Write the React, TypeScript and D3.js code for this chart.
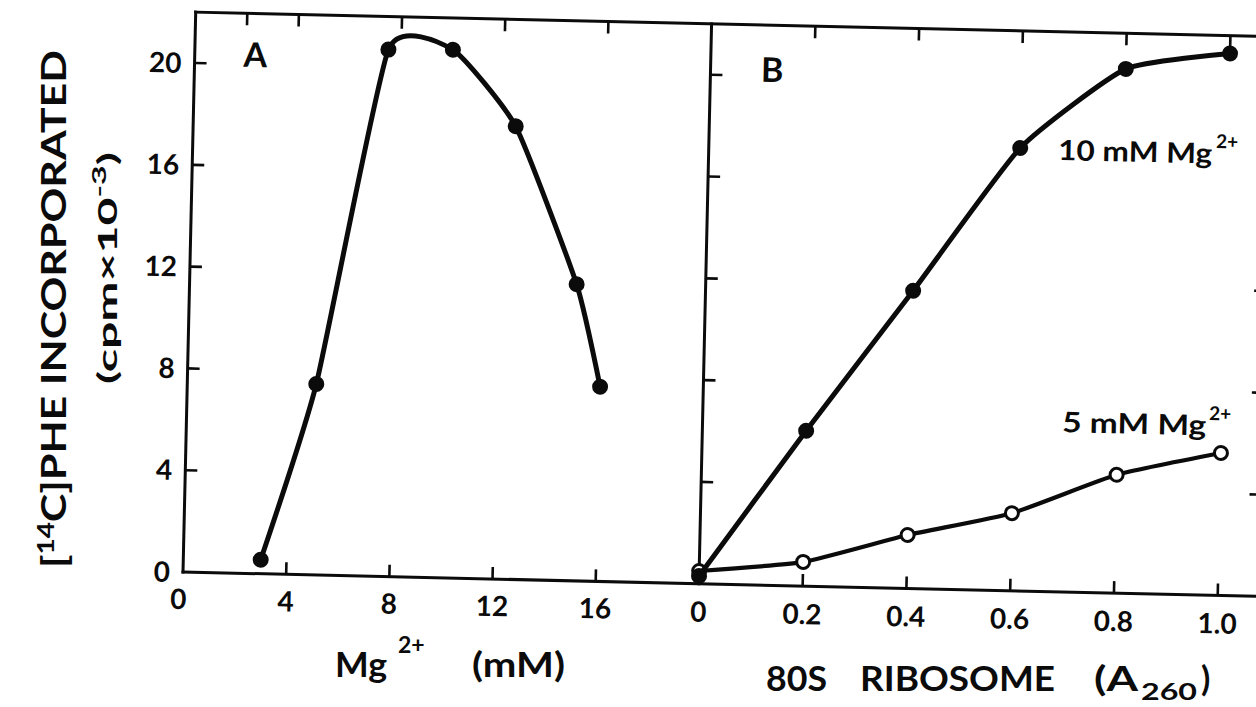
import React from "react";
import * as d3 from "d3";

// Panel A: incorporation versus Mg2+ concentration (mM)
const mgConc = [3, 5, 7.5, 10, 12.5, 15, 16];
const mgIncorp = [0.55, 7.5, 20.7, 20.75, 17.8, 11.65, 7.65];

// Panel B: incorporation versus amount of 80S ribosomes (A260 units)
const ribosome = [0, 0.2, 0.4, 0.6, 0.8, 1.0];
const incorp10mM = [0.3, 6.1, 11.7, 17.4, 20.6, 21.3];
const incorp5mM = [0.5, 0.95, 2.1, 3.05, 4.65, 5.6];

// Axis ticks
const yTicks = [4, 8, 12, 16, 20];
const yTickLabels = ["0", "4", "8", "12", "16", "20"];
const mgBottomTicks = [4, 8, 12, 16];
const mgTopTicks = [2, 4, 8, 12, 16];
const mgTickLabels = ["0", "4", "8", "12", "16"];
const riboTicks = [0.2, 0.4, 0.6, 0.8, 1.0];
const riboTickLabels = ["0", "0.2", "0.4", "0.6", "0.8", "1.0"];

const W = 1256;
const H = 707;
const INK = "#0b0b0b";
const FONT = "Lato, 'Noto Sans', 'DejaVu Sans', sans-serif";

export default function App() {
  // the whole plot frame sits slightly tilted, pivoting on panel A's origin
  const OX = 183;
  const OY = 572;
  const ANGLE = 1.3;
  const rad = (ANGLE * Math.PI) / 180;
  const cos = Math.cos(rad);
  const sin = Math.sin(rad);
  const toLocal = (sx: number, sy: number): [number, number] => {
    const dx = sx - OX;
    const dy = sy - OY;
    return [OX + dx * cos + dy * sin, OY - dx * sin + dy * cos];
  };

  const xA = d3.scaleLinear().domain([0, 20]).range([OX, 699]);
  const xB = d3.scaleLinear().domain([0, 1.08]).range([699, 1259.5]);
  const y = d3.scaleLinear().domain([0, 22]).range([OY, OY - 560]);

  const yTop = y(22);
  const yBot = y(0);
  const xLeft = xA(0);
  const xDiv = xB(0);
  const xRight = xB(1.08);
  const TICK = 12;

  const line = d3
    .line<[number, number]>()
    .x((d) => d[0])
    .y((d) => d[1])
    .curve(d3.curveCardinal.tension(0.5));

  const ptsA: [number, number][] = mgConc.map((m, i) => [xA(m), y(mgIncorp[i])]);
  const pts10: [number, number][] = ribosome.map((r, i) => [xB(r), y(incorp10mM[i])]);
  const pts5: [number, number][] = ribosome.map((r, i) => [xB(r), y(incorp5mM[i])]);

  const labelA = toLocal(255, 67);
  const labelB = toLocal(772, 82);
  const lab10 = toLocal(1058, 160);
  const lab10sup = toLocal(1216, 148);
  const lab5 = toLocal(1062, 432);
  const lab5sup = toLocal(1209, 420);

  const tickFont = 28;

  return (
    <svg
      width={W}
      height={H}
      viewBox={`0 0 ${W} ${H}`}
      style={{ position: "fixed", left: 0, top: 0, background: "#fff" }}
      fontFamily={FONT}
      fontWeight={700}
      fill={INK}
    >
      <rect x={0} y={0} width={W} height={H} fill="#fff" />

      <g transform={`rotate(${ANGLE} ${OX} ${OY})`}>
        {/* frame */}
        <g stroke={INK} strokeWidth={3} fill="none" strokeLinecap="square">
          <line x1={xLeft} y1={yTop} x2={xRight} y2={yTop} />
          <line x1={xLeft} y1={yBot} x2={xRight} y2={yBot} />
          <line x1={xLeft} y1={yTop} x2={xLeft} y2={yBot} />
          <line x1={xDiv} y1={yTop} x2={xDiv} y2={yBot} />
          <line x1={xRight} y1={yTop} x2={xRight} y2={yBot} />
        </g>

        {/* ticks, all pointing inwards */}
        <g stroke={INK} strokeWidth={2.6}>
          {yTicks.map((t) => (
            <g key={`yt${t}`}>
              <line x1={xLeft} x2={xLeft + TICK} y1={y(t)} y2={y(t)} />
              <line x1={xDiv} x2={xDiv + TICK} y1={y(t)} y2={y(t)} />
              <line x1={xRight} x2={xRight - TICK} y1={y(t)} y2={y(t)} />
            </g>
          ))}
          {mgBottomTicks.map((t) => (
            <line key={`mb${t}`} x1={xA(t)} x2={xA(t)} y1={yBot} y2={yBot - TICK} />
          ))}
          {mgTopTicks.map((t) => (
            <line key={`mt${t}`} x1={xA(t)} x2={xA(t)} y1={yTop} y2={yTop + TICK} />
          ))}
          {riboTicks.map((t) => (
            <g key={`rt${t}`}>
              <line x1={xB(t)} x2={xB(t)} y1={yBot} y2={yBot - TICK} />
              <line x1={xB(t)} x2={xB(t)} y1={yTop} y2={yTop + TICK} />
            </g>
          ))}
        </g>

        {/* tick labels */}
        <g fontSize={tickFont} stroke="none">
          {[0, ...yTicks].map((t, i) => (
            <text key={`yl${t}`} x={xLeft - 13} y={y(t)} dy="0.36em" textAnchor="end">
              {yTickLabels[i]}
            </text>
          ))}
          {[0, ...mgBottomTicks].map((t, i) => (
            <text
              key={`ml${t}`}
              x={xA(t) + (t === 0 ? -4 : 0)}
              y={yBot + 37}
              textAnchor="middle"
            >
              {mgTickLabels[i]}
            </text>
          ))}
          {[0, ...riboTicks].map((t, i) => (
            <text key={`rl${t}`} x={xB(t)} y={yBot + 38} textAnchor="middle">
              {riboTickLabels[i]}
            </text>
          ))}
        </g>

        {/* panel letters */}
        <text x={labelA[0]} y={labelA[1]} fontSize={34} textAnchor="middle">
          A
        </text>
        <text x={labelB[0]} y={labelB[1]} fontSize={34} textAnchor="middle">
          B
        </text>

        {/* series labels */}
        <text x={lab10[0]} y={lab10[1]} fontSize={28} textLength={154} lengthAdjust="spacingAndGlyphs">
          10 mM Mg
        </text>
        <text x={lab10sup[0]} y={lab10sup[1]} fontSize={19}>
          2+
        </text>
        <text x={lab5[0]} y={lab5[1]} fontSize={28} textLength={144} lengthAdjust="spacingAndGlyphs">
          5 mM Mg
        </text>
        <text x={lab5sup[0]} y={lab5sup[1]} fontSize={19}>
          2+
        </text>

        {/* panel A curve */}
        <path d={line(ptsA) ?? ""} fill="none" stroke={INK} strokeWidth={5} />
        {ptsA.map((p, i) => (
          <circle key={`pa${i}`} cx={p[0]} cy={p[1]} r={8} fill={INK} />
        ))}

        {/* panel B, 5 mM (open symbols) */}
        <path d={line(pts5) ?? ""} fill="none" stroke={INK} strokeWidth={4.2} />
        {pts5.map((p, i) => (
          <circle
            key={`p5${i}`}
            cx={p[0]}
            cy={p[1]}
            r={6.5}
            fill="#fff"
            stroke={INK}
            strokeWidth={3}
          />
        ))}

        {/* panel B, 10 mM (filled symbols) */}
        <path d={line(pts10) ?? ""} fill="none" stroke={INK} strokeWidth={5} />
        {pts10.map((p, i) => (
          <circle key={`p10${i}`} cx={p[0]} cy={p[1]} r={8} fill={INK} />
        ))}
      </g>

      {/* y-axis title */}
      <g transform="translate(66,309) rotate(-90)">
        <text x={0} y={0} fontSize={34} textAnchor="middle" textLength={518} lengthAdjust="spacingAndGlyphs">
          [<tspan fontSize={22} dy={-12}>14</tspan>
          <tspan dy={12}>C]PHE  INCORPORATED</tspan>
        </text>
      </g>
      <g transform="translate(117,268) rotate(-90)">
        <text x={0} y={0} fontSize={27} textAnchor="middle" textLength={232} lengthAdjust="spacingAndGlyphs">
          (cpm×10<tspan fontSize={19} dy={-11}>-3</tspan>
          <tspan dy={11}>)</tspan>
        </text>
      </g>

      {/* x-axis titles */}
      <text x={335} y={677} fontSize={34} textLength={52} lengthAdjust="spacingAndGlyphs">
        Mg
      </text>
      <text x={398} y={653} fontSize={23}>
        2+
      </text>
      <text x={472} y={677} fontSize={34} textLength={93} lengthAdjust="spacingAndGlyphs">
        (mM)
      </text>

      <text x={766} y={691} fontSize={34} textLength={61} lengthAdjust="spacingAndGlyphs">
        80S
      </text>
      <text x={860} y={691} fontSize={34} textLength={195} lengthAdjust="spacingAndGlyphs">
        RIBOSOME
      </text>
      <text x={1094} y={691} fontSize={34} textLength={44} lengthAdjust="spacingAndGlyphs">
        (A
      </text>
      <text x={1141} y={700} fontSize={22} textLength={56} lengthAdjust="spacingAndGlyphs">
        260
      </text>
      <text x={1201} y={691} fontSize={34}>
        )
      </text>
    </svg>
  );
}
